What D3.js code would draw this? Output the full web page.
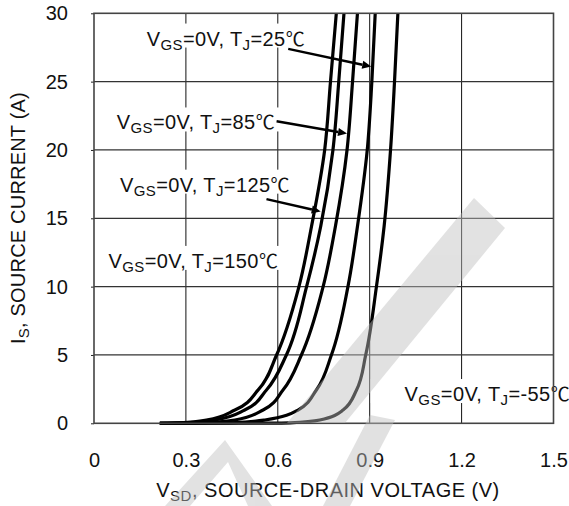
<!DOCTYPE html>
<html>
<head>
<meta charset="utf-8">
<script src="https://cdnjs.cloudflare.com/ajax/libs/d3/7.8.5/d3.min.js"></script>
<style>
  html, body { margin: 0; padding: 0; background: #fff; }
  svg { display: block; }
  text { font-family: "Liberation Sans", Arial, sans-serif; }
</style>
</head>
<body>
<svg id="chart" width="569" height="506"></svg>
<script>
// ---- data ----
const xTicks = [0, 0.3, 0.6, 0.9, 1.2, 1.5];
const xTickLabels = ["0", "0.3", "0.6", "0.9", "1.2", "1.5"];
const yTicks = [0, 5, 10, 15, 20, 25, 30];
const yTickLabels = ["0", "5", "10", "15", "20", "25", "30"];

const seriesNames = ["150", "125", "85", "25", "-55"];
const vsd150 = [0.215, 0.28, 0.367, 0.460, 0.536, 0.596, 0.669, 0.710, 0.753, 0.772, 0.791];
const is150  = [0,     0.04, 0.24,  0.97,  2.44,  5,     10,    14.4,  20,    25,    30];
const vsd125 = [0.215, 0.30, 0.395, 0.492, 0.563, 0.628, 0.694, 0.740, 0.780, 0.799, 0.816];
const is125  = [0,     0.04, 0.24,  0.97,  2.44,  5,     10,    14.4,  20,    25,    30];
const vsd85  = [0.215, 0.36, 0.460, 0.552, 0.617, 0.677, 0.748, 0.788, 0.826, 0.844, 0.860];
const is85   = [0,     0.04, 0.24,  0.97,  2.44,  5,     10,    14.4,  20,    25,    30];
const vsd25  = [0.215, 0.45, 0.558, 0.666, 0.726, 0.775, 0.829, 0.860, 0.892, 0.907, 0.918];
const is25   = [0,     0.04, 0.24,  0.97,  2.44,  5,     10,    14.4,  20,    25,    30];
const vsdM55 = [0.215, 0.55, 0.64,  0.737, 0.813, 0.857, 0.887, 0.922, 0.947, 0.968, 0.981, 0.992];
const isM55  = [0,     0.01, 0.03,  0.24,  0.97,  2.44,  5,     10,    14.4,  20,    25,    30];

// annotation labels: temperature, anchor (V, I), arrow start/end (V, I) or null
const labelTemps  = ["25", "85", "125", "150", "-55"];
const labelV      = [0.172, 0.074, 0.085, 0.047, 1.014];
const labelI      = [27.64, 21.50, 16.95, 11.37, 1.63];
const arrowFromV  = [0.634, 0.596, 0.563, null, null];
const arrowFromI  = [27.4, 22.1, 16.4, null, null];
const arrowToV    = [0.905, 0.826, 0.740, null, null];
const arrowToI    = [26.1, 21.2, 15.5, null, null];

// ---- layout ----
const svg = d3.select("#chart");
const x = d3.scaleLinear().domain([0, 1.5]).range([94, 553.5]);
const y = d3.scaleLinear().domain([0, 30]).range([423.3, 13.3]);

// grid
const grid = svg.append("g");
grid.selectAll("line.v").data(xTicks.slice(1, -1)).join("line")
  .attr("x1", d => x(d)).attr("x2", d => x(d))
  .attr("y1", y(0)).attr("y2", y(30))
  .attr("stroke", "#111").attr("stroke-width", 1);
grid.selectAll("line.h").data(yTicks.slice(1, -1)).join("line")
  .attr("x1", x(0)).attr("x2", x(1.5))
  .attr("y1", d => y(d)).attr("y2", d => y(d))
  .attr("stroke", "#333").attr("stroke-width", 1.2);

// y axis ticks & labels
const yAxis = d3.axisLeft(y).tickValues(yTicks).tickSize(3)
  .tickFormat((d, i) => yTickLabels[i]).tickPadding(23);
const gy = svg.append("g").attr("transform", `translate(${x(0)},0)`).call(yAxis);
gy.select(".domain").remove();
gy.selectAll(".tick line").attr("stroke", "#222");
gy.selectAll(".tick text").attr("font-size", 20).attr("fill", "#111")
  .attr("font-family", "Liberation Sans, Arial, sans-serif");

// x axis labels
const xAxis = d3.axisBottom(x).tickValues(xTicks).tickSize(0)
  .tickFormat((d, i) => xTickLabels[i]).tickPadding(30);
const gx = svg.append("g").attr("transform", `translate(0,${y(0)})`).call(xAxis);
gx.select(".domain").remove();
gx.selectAll(".tick text").attr("font-size", 20).attr("fill", "#111")
  .attr("font-family", "Liberation Sans, Arial, sans-serif");

// labels with white backgrounds
const degFont = "'Noto Sans CJK SC', 'DejaVu Sans', sans-serif";
const labG = svg.append("g");
labelTemps.forEach((t, i) => {
  const lx = x(labelV[i]), ly = y(labelI[i]);
  const g = labG.append("g");
  const rect = g.append("rect").attr("fill", "#fff");
  const txt = g.append("text").attr("x", lx).attr("y", ly)
    .attr("font-size", 20).attr("fill", "#111").attr("letter-spacing", 0.4);
  txt.append("tspan").text("V");
  txt.append("tspan").attr("font-size", 15).attr("dy", 4).text("GS");
  txt.append("tspan").attr("dy", -4).text("=0V, T");
  txt.append("tspan").attr("font-size", 15).attr("dy", 4).text("J");
  txt.append("tspan").attr("dy", -4).text("=" + t);
  txt.append("tspan").attr("font-family", degFont).attr("font-size", 19).text("\u2103");
  const w = txt.node().getComputedTextLength();
  const left = (i === 4) ? x(0.9) + 1 : lx - 3;
  rect.attr("x", left).attr("y", ly - 22).attr("width", lx + w + 4 - left).attr("height", 24);
});

// curves
const allV = [vsd150, vsd125, vsd85, vsd25, vsdM55];
const allI = [is150, is125, is85, is25, isM55];
const line = d3.line().x(d => x(d[0])).y(d => y(d[1])).curve(d3.curveMonotoneY);
const curves = svg.append("g");
seriesNames.forEach((n, k) => {
  const pts = allV[k].map((v, j) => [v, allI[k][j]]);
  curves.append("path").datum(pts).attr("d", line)
    .attr("fill", "none").attr("stroke", "#000").attr("stroke-width", 3.2)
    .attr("stroke-linejoin", "round");
});

// arrows
const arr = svg.append("g");
labelTemps.forEach((t, i) => {
  if (arrowFromV[i] === null) return;
  const x1 = x(arrowFromV[i]), y1 = y(arrowFromI[i]);
  const x2 = x(arrowToV[i]), y2 = y(arrowToI[i]);
  const ang = Math.atan2(y2 - y1, x2 - x1);
  const L = 9, W = 4;
  const bx = x2 - L * Math.cos(ang), by = y2 - L * Math.sin(ang);
  arr.append("line").attr("x1", x1).attr("y1", y1).attr("x2", bx).attr("y2", by)
    .attr("stroke", "#000").attr("stroke-width", 2.4);
  const px = -Math.sin(ang) * W, py = Math.cos(ang) * W;
  arr.append("polygon")
    .attr("points", `${x2},${y2} ${bx + px},${by + py} ${bx - px},${by - py}`)
    .attr("fill", "#000");
});

// frame
svg.append("rect").attr("x", x(0)).attr("y", y(30))
  .attr("width", x(1.5) - x(0)).attr("height", y(0) - y(30))
  .attr("fill", "none").attr("stroke", "#444").attr("stroke-width", 1.6);

// axis titles
const xt = svg.append("text").attr("x", 328).attr("y", 497).attr("text-anchor", "middle")
  .attr("font-size", 20).attr("fill", "#111").attr("letter-spacing", 0.5);
xt.append("tspan").text("V");
xt.append("tspan").attr("font-size", 15).attr("dy", 4).text("SD");
xt.append("tspan").attr("dy", -4).text(", SOURCE-DRAIN VOLTAGE (V)");

const yt = svg.append("text").attr("transform", "translate(25,218) rotate(-90)")
  .attr("text-anchor", "middle").attr("font-size", 20).attr("fill", "#111").attr("letter-spacing", 0.2);
yt.append("tspan").text("I");
yt.append("tspan").attr("font-size", 15).attr("dy", 4).text("S");
yt.append("tspan").attr("dy", -4).text(", SOURCE CURRENT (A)");

// watermark (decorative, translucent gray)
const wm = svg.append("g").attr("fill", "#bebebe").attr("opacity", 0.45);
const wmShapes = [
  [[287,423],[345,423],[505,228],[474,198]],
  [[323,506],[350,506],[395,420],[370,415]],
  [[165,506],[190,506],[228,462],[248,506],[272,506],[225,440]]
];
wmShapes.forEach(p => wm.append("polygon").attr("points", p.map(q => q.join(",")).join(" ")));
</script>
</body>
</html>
